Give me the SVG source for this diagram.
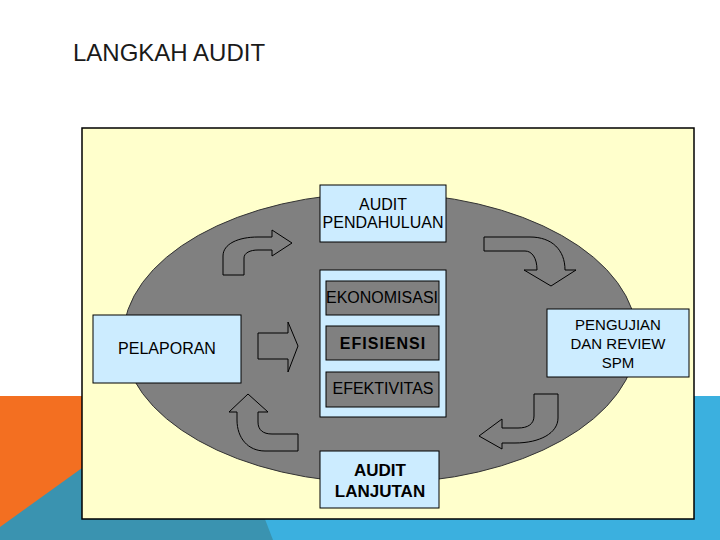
<svg xmlns="http://www.w3.org/2000/svg" width="720" height="540" viewBox="0 0 720 540">
<style>
text{font-family:"Liberation Sans",Arial,sans-serif;fill:#000;text-anchor:middle}
.box{fill:#CCECFF;stroke:#000;stroke-width:1}
.inner{fill:#808080;stroke:#000;stroke-width:1}
.arr{fill:#808080;stroke:#000;stroke-width:1;stroke-linejoin:miter}
.t16{font-size:16px}
.t15{font-size:15px}
.b{font-weight:bold}
</style>
<rect width="720" height="540" fill="#fff"/>
<g id="background">
<rect x="0" y="396" width="720" height="144" fill="#3BB0DF"/>
<rect x="0" y="396" width="150" height="144" fill="#F36F21"/>
<polygon points="0,527 210,376 273,540 0,540" fill="#3A93B0"/>
</g>
<text x="73" y="61" style="font-size:24px;text-anchor:start;fill:#1a1a1a">LANGKAH AUDIT</text>
<rect x="82" y="128" width="612" height="391" fill="#FFFFCC" stroke="#000" stroke-width="1.5"/>
<ellipse cx="380" cy="338" rx="257" ry="145" fill="#808080" stroke="#333" stroke-width="1"/>
<g id="connectors">
<path class="arr" d="M223,275 L223,256 C223,244 238,237 258,237 L272,237 L272,230 L292,243 L272,256 L272,250 L258,250 C250,250 244,253 244,258 L244,275 Z"/>
<path class="arr" d="M484,237 L530,237 C552,237 565,250 565,270 L576,270 L551,286 L524,270 L537,270 C537,258 532,251 525,251 L484,251 Z"/>
<path class="arr" d="M534,394 L558,394 L558,418 C558,433 540,443 515,443 L502,443 L502,449 L479,436 L502,419 L502,428 L518,428 C528,428 534,424 534,416 Z"/>
<path class="arr" d="M298,434 L298,451 L265,451 C248,451 237,438 237,420 L237,412 L229,412 L248,394 L268,412 L258,412 L258,422 C258,430 263,434 272,434 Z"/>
<path class="arr" d="M258,333 L288,333 L288,322 L298,346 L288,372 L288,359 L258,359 Z"/>
</g>
<g id="audit-pendahuluan">
<rect class="box" x="320" y="185" width="126" height="57"/>
<text class="t16" x="383" y="210">AUDIT</text>
<text class="t16" x="383" y="228">PENDAHULUAN</text>
</g>
<g id="center">
<rect class="box" x="320" y="270" width="126" height="147"/>
<g id="ekonomisasi">
<rect class="inner" x="326" y="281" width="113" height="34"/>
<text class="t16" x="382" y="303">EKONOMISASI</text>
</g>
<g id="efisiensi">
<rect class="inner" x="326" y="326" width="113" height="34"/>
<text class="t16 b" x="383" y="349" letter-spacing="1">EFISIENSI</text>
</g>
<g id="efektivitas">
<rect class="inner" x="326" y="372" width="113" height="35"/>
<text class="t16" x="383" y="394">EFEKTIVITAS</text>
</g>
</g>
<g id="pelaporan">
<rect class="box" x="93" y="315" width="148" height="68"/>
<text class="t16" x="167" y="354">PELAPORAN</text>
</g>
<g id="pengujian">
<rect class="box" x="547" y="309" width="142" height="68"/>
<text class="t15" x="618" y="330">PENGUJIAN</text>
<text class="t15" x="618" y="349">DAN REVIEW</text>
<text class="t15" x="618" y="368">SPM</text>
</g>
<g id="audit-lanjutan">
<rect class="box" x="320" y="451" width="119" height="57"/>
<text class="b" x="380" y="476" style="font-size:17px">AUDIT</text>
<text class="b" x="380" y="497" style="font-size:17px">LANJUTAN</text>
</g>
</svg>
